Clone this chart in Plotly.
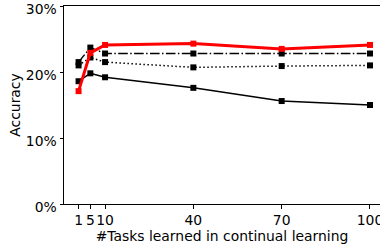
import plotly.graph_objects as go

tasks = [1, 5, 10, 40, 70, 100]
solid_vals = [0.186, 0.198, 0.192, 0.176, 0.156, 0.150]
dotted_vals = [0.210, 0.222, 0.215, 0.207, 0.209, 0.210]
dashdot_vals = [0.215, 0.237, 0.228, 0.228, 0.228, 0.228]
red_vals = [0.171, 0.229, 0.241, 0.243, 0.235, 0.241]
y_ticks = [0, 0.1, 0.2, 0.3]
x_ticks = [1, 5, 10, 40, 70, 100]

fig = go.Figure()
fig.add_trace(go.Scatter(x=tasks, y=solid_vals, mode="lines+markers",
                         line=dict(color="black", width=1.5),
                         marker=dict(symbol="square", size=6, color="black")))
fig.add_trace(go.Scatter(x=tasks, y=dotted_vals, mode="lines+markers",
                         line=dict(color="black", width=1.5, dash="1.5px,2.5px"),
                         marker=dict(symbol="square", size=6, color="black")))
fig.add_trace(go.Scatter(x=tasks, y=dashdot_vals, mode="lines+markers",
                         line=dict(color="black", width=1.5, dash="9.6px,2.4px,1.5px,2.4px"),
                         marker=dict(symbol="square", size=6, color="black")))
fig.add_trace(go.Scatter(x=tasks, y=red_vals, mode="lines+markers",
                         line=dict(color="red", width=3),
                         marker=dict(symbol="square", size=6, color="red")))

font = dict(family="DejaVu Sans", size=13.9, color="black")
fig.update_layout(
    width=380, height=246,
    margin=dict(l=64, r=0, t=6, b=42),
    paper_bgcolor="white", plot_bgcolor="white",
    showlegend=False,
    font=font,
    xaxis=dict(range=[-3.95, 103.4], tickvals=x_ticks, ticktext=[str(v) for v in x_ticks],
               tickangle=0,
               showgrid=False, zeroline=False, showline=True, linecolor="black", linewidth=1,
               mirror=True, ticks="outside", ticklen=3.5, tickwidth=1, tickcolor="black",
               automargin=False, ticklabeloverflow="allow",
               title=dict(text="#Tasks learned in continual learning", font=font, standoff=0),
               tickfont=font),
    yaxis=dict(range=[0, 0.3], tickvals=y_ticks, tickformat=".0%",
               showgrid=False, zeroline=False, showline=True, linecolor="black", linewidth=1,
               ticks="outside", ticklen=3.5, tickwidth=1, tickcolor="black",
               automargin=False, ticklabeloverflow="allow", ticklabelshift=3,
               title=dict(text="Accuracy", font=font, standoff=1),
               tickfont=font),
)
fig.write_html("out.html", post_script="document.body.style.margin='0';",
               config={"displayModeBar": False})
